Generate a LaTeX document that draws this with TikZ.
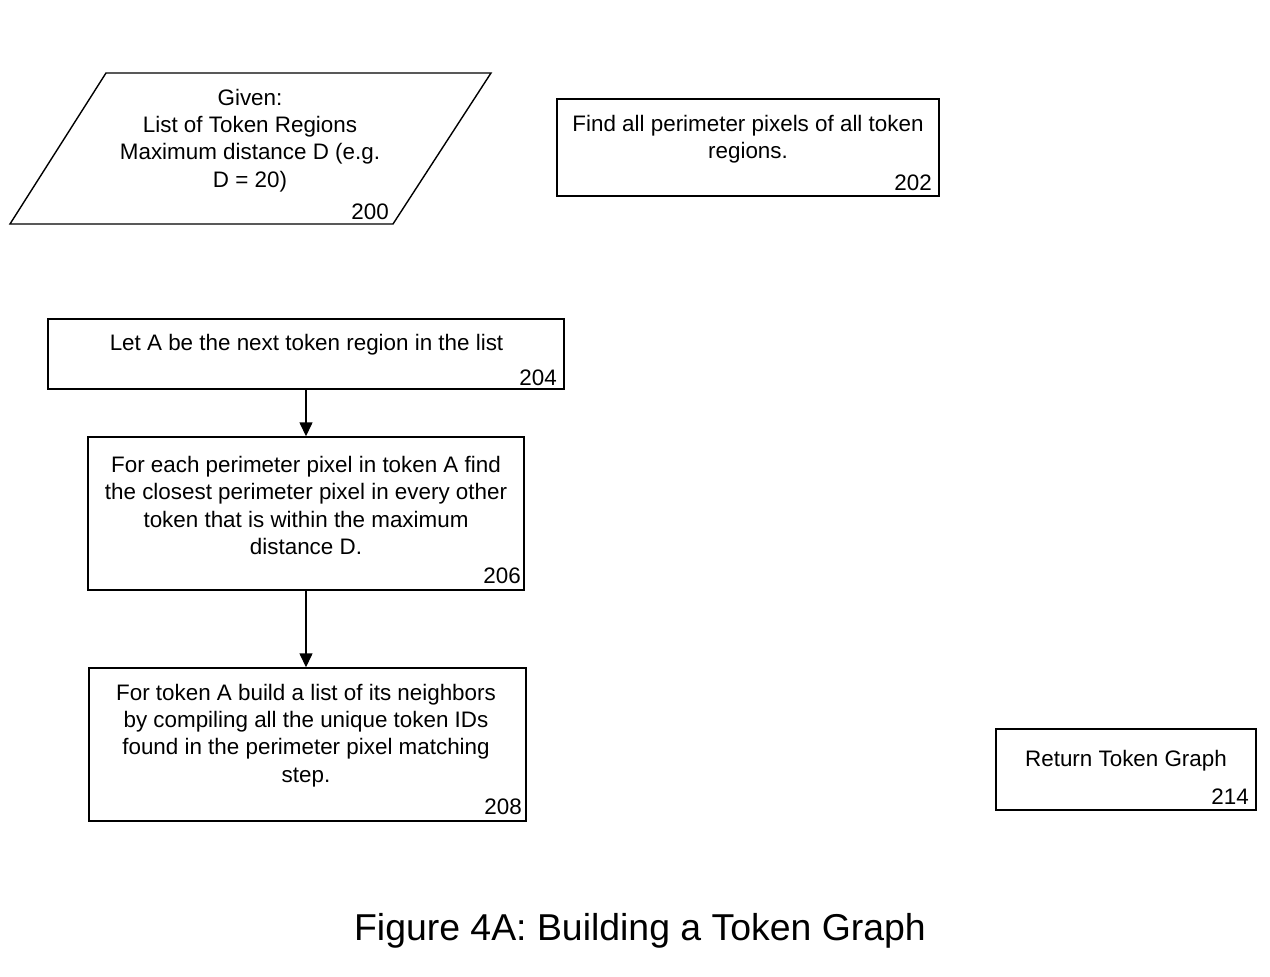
\documentclass[tikz,border=0pt]{standalone}
\usepackage{fontspec}
\setmainfont{Liberation Sans}
\usetikzlibrary{arrows.meta}
\begin{document}
\begin{tikzpicture}[x=1pt,y=-1pt,
  box/.style={draw,line width=1.4pt,rectangle,inner sep=0pt},
  txt/.style={align=center,inner sep=0pt,font=\fontsize{22.4}{27.4}\selectfont},
  num/.style={inner sep=0pt,anchor=base east,font=\fontsize{22.4}{27.4}\selectfont},
  title/.style={inner sep=0pt,font=\fontsize{37.4}{44}\selectfont},
  flow/.style={line width=1.4pt,-{Triangle[width=13pt,length=14pt]}}]
\useasboundingbox (0,0) rectangle (1270,977);
% 200 parallelogram
\coordinate (p1) at (106,73);
\coordinate (p2) at (491,73);
\coordinate (p3) at (393,224);
\coordinate (p4) at (10,224);
\draw[line width=1.4pt,line join=miter] (p1) -- (p2) -- (p3) -- (p4) -- cycle;
\node[txt] (t200) at (250,140.5) {Given:\\List of Token Regions\\Maximum distance D (e.g.\\D = 20)};
\node[num] (n200) at (389,219) {200};
% 202
\node[box,minimum width=382pt,minimum height=97pt] (b202) at (748,147.5) {};
\node[txt] (t202) at (748,139.5) {Find all perimeter pixels of all token\\regions.};
\node[num] (n202) at (932,190) {202};
% 204
\node[box,minimum width=516pt,minimum height=70pt] (b204) at (306,354) {};
\node[txt] (t204) at (306.5,344.5) {Let A be the next token region in the list};
\node[num] (n204) at (557,385) {204};
% 206
\node[box,minimum width=436pt,minimum height=153pt] (b206) at (306,513.5) {};
\node[txt] (t206) at (306,505.5) {For each perimeter pixel in token A find\\the closest perimeter pixel in every other\\token that is within the maximum\\distance D.};
\node[num] (n206) at (521,583) {206};
% 208
\node[box,minimum width=437pt,minimum height=153pt] (b208) at (307.5,744.5) {};
\node[txt] (t208) at (306,735.5) {For token A build a list of its neighbors\\by compiling all the unique token IDs\\found in the perimeter pixel matching\\step.};
\node[num] (n208) at (522,814) {208};
% 214
\node[box,minimum width=260pt,minimum height=81pt] (b214) at (1126,769.5) {};
\node[txt] (t214) at (1126,760.5) {Return Token Graph};
\node[num] (n214) at (1249,804) {214};
% arrows
\draw[flow] (b204.south) -- (b206.north);
\draw[flow] (b206.south) -- (b206.south |- b208.north);
% title
\node[title] (ttl) at (640,931) {Figure 4A: Building a Token Graph};
\end{tikzpicture}
\end{document}
